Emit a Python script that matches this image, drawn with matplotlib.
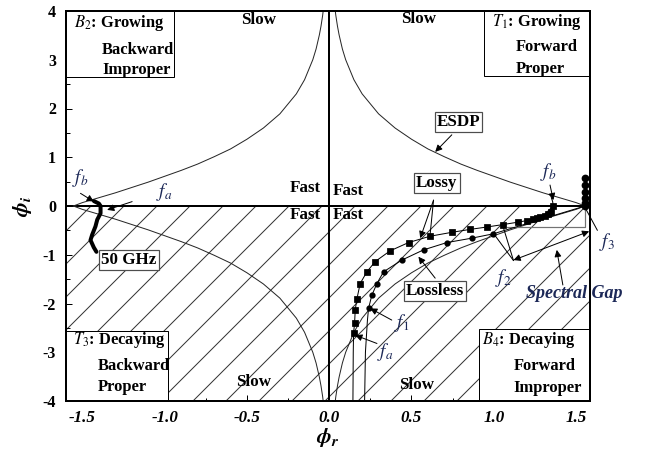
import numpy as np
import matplotlib
matplotlib.use('Agg')
import matplotlib.pyplot as plt
from matplotlib.patches import Rectangle

# drawn at 198 dpi, '//' hatch then gives 33 px line spacing like the original
DPI = 198
PX = 72.0 / DPI  # one pixel in points

plt.rcParams['font.family'] = 'Liberation Serif'
plt.rcParams['mathtext.fontset'] = 'stix'
plt.rcParams['hatch.linewidth'] = 1.0 * PX

# ESDP boundary, upper right branch (the other three are its mirror images)
esdp_r = [0.035, 0.04, 0.05, 0.06, 0.08, 0.10, 0.15, 0.20, 0.30, 0.40, 0.50,
          0.60, 0.70, 0.80, 0.90, 1.00, 1.10, 1.20, 1.30, 1.40, 1.50, 1.555]
esdp_i = [4.05, 3.91, 3.69, 3.51, 3.22, 3.00, 2.59, 2.30, 1.89, 1.60, 1.37,
          1.17, 1.01, 0.86, 0.73, 0.61, 0.49, 0.38, 0.27, 0.17, 0.07, 0.0]

# lossy branch (squares)
lossy_r = [0.144, 0.146, 0.148, 0.154, 0.158, 0.168, 0.188, 0.229, 0.279, 0.370,
           0.482, 0.613, 0.745, 0.856, 0.960, 1.058, 1.150, 1.200, 1.240, 1.261,
           1.280, 1.310, 1.330, 1.345, 1.362, 1.358, 1.350]
lossy_i = [-4.0, -3.0, -2.60, -2.41, -2.13, -1.91, -1.59, -1.35, -1.14, -0.92,
           -0.75, -0.62, -0.54, -0.48, -0.43, -0.38, -0.33, -0.30, -0.27, -0.25,
           -0.23, -0.20, -0.17, -0.13, -0.01, 0.09, 0.17]

# lossless branch (circles)
lossless_r = [0.215, 0.220, 0.232, 0.239, 0.259, 0.290, 0.330, 0.441, 0.573,
              0.715, 0.866, 0.998, 1.555]
lossless_i = [-4.0, -3.0, -2.35, -2.10, -1.83, -1.59, -1.35, -1.11, -0.90,
              -0.75, -0.66, -0.57, 0.0]

# lossless stop band at phi_r = pi/2
stop_r = [1.555, 1.555, 1.555, 1.555, 1.555, 1.555]
stop_i = [0.0, 0.06, 0.16, 0.29, 0.43, 0.57]

# backward branch up to 50 GHz (thick)
ghz_r = [-1.43, -1.40, -1.39, -1.39, -1.41, -1.421, -1.441, -1.451, -1.431, -1.415]
ghz_i = [0.10, 0.05, 0.0, -0.15, -0.28, -0.42, -0.59, -0.70, -0.85, -0.94]

xtick_vals = [-1.5, -1.0, -0.5, 0.0, 0.5, 1.0, 1.5]
xtick_labels = ['-1.5', '-1.0', '-0.5', '0.0', '0.5', '1.0', '1.5']
ytick_vals = [-4, -3, -2, -1, 0, 1, 2, 3, 4]
ytick_labels = ['-4', '-3', '-2', '-1', '0', '1', '2', '3', '4']

navy = '#1c2857'
fig = plt.figure(figsize=(648 / DPI, 457 / DPI), dpi=DPI)
ax = fig.add_axes([66 / 648, 1 - 401 / 457, 524 / 648, 390 / 457])
ax.set_xlim(-1.6, 1.585)
ax.set_ylim(-4, 4)

# hatched lower half plane
ax.axhspan(-4, 0, facecolor='none', edgecolor='0.2', hatch='//', lw=0, zorder=0)

ax.axhline(0, color='k', lw=2 * PX, zorder=2)
ax.axvline(0, color='k', lw=2 * PX, zorder=2)

er = np.array(esdp_r)
ei = np.array(esdp_i)
for sr, si in [(1, 1), (-1, 1), (-1, -1), (1, -1)]:
    ax.plot(sr * er, si * ei, color='0.15', lw=1 * PX, zorder=2)

ax.plot(lossy_r, lossy_i, color='k', lw=1 * PX, marker='s', ms=3.5 * PX,
        markevery=list(range(2, 25)), zorder=3)
ax.plot(lossless_r, lossless_i, color='k', lw=1 * PX, marker='o', ms=3.5 * PX,
        markevery=list(range(3, 12)), zorder=3)
ax.plot(stop_r, stop_i, color='k', lw=1 * PX, marker='o', ms=5 * PX, zorder=3)
ax.plot(ghz_r, ghz_i, color='k', lw=4 * PX, solid_capstyle='round', zorder=3)

# spectral gap bracket
ax.plot([1.08, 1.555, 1.555], [-0.43, -0.43, 0.0], color='0.45', lw=1.2 * PX, zorder=2)

# quadrant boxes
fs = 16.5 * PX
boxes = [(-1.6, 2.64, 0.655, 1.36), (0.943, 2.67, 0.642, 1.33),
         (-1.6, -4.0, 0.618, 1.44), (0.913, -4.0, 0.672, 1.47)]
for x0, y0, w, h in boxes:
    ax.add_patch(Rectangle((x0, y0), w, h, fc='white', ec='k', lw=1 * PX, zorder=4))

box_text = [(-1.554, 3.75, r'$B_2$: Growing'), (-1.380, 3.20, 'Backward'), (-1.380, 2.79, 'Improper'),
            (0.988, 3.78, r'$T_1$: Growing'), (1.135, 3.27, 'Forward'), (1.135, 2.82, 'Proper'),
            (-1.556, -2.75, r'$T_3$: Decaying'), (-1.407, -3.28, 'Backward'), (-1.407, -3.71, 'Proper'),
            (0.927, -2.75, r'$B_4$: Decaying'), (1.119, -3.28, 'Forward'), (1.119, -3.74, 'Improper')]
for x, y, s in box_text:
    ax.text(x, y, s, fontsize=fs, fontweight='bold', ha='left', va='center', zorder=5)

for x, y, s in [(-0.43, 3.82, 'Slow'), (0.54, 3.83, 'Slow'), (-0.46, -3.62, 'Slow'),
                (0.53, -3.67, 'Slow'), (-0.146, 0.36, 'Fast'), (0.117, 0.31, 'Fast'),
                (-0.146, -0.18, 'Fast'), (0.117, -0.18, 'Fast')]:
    ax.text(x, y, s, fontsize=17 * PX, fontweight='bold', ha='center', va='center', zorder=5)

lbl_box = dict(boxstyle='square,pad=0.12', fc='white', ec='0.3', lw=1.2 * PX)
for x, y, s in [(0.786, 1.73, 'ESDP'), (0.654, 0.47, 'Lossy'),
                (0.644, -1.74, 'Lossless'), (-1.218, -1.11, '50 GHz')]:
    ax.text(x, y, s, fontsize=17 * PX, fontweight='bold', ha='center', va='center',
            bbox=lbl_box, zorder=6)

for x, y, s in [(-1.512, 0.57, r'$f_b$'), (-1.006, 0.29, r'$f_a$'), (1.332, 0.70, r'$f_b$'),
                (0.441, -2.41, r'$f_1$'), (0.340, -2.99, r'$f_a$'), (1.058, -1.48, r'$f_2$'),
                (1.686, -0.73, r'$f_3$')]:
    ax.text(x, y, s, fontsize=19 * PX, color=navy, ha='center', va='center',
            zorder=6, clip_on=False)
ax.text(1.488, -1.79, 'Spectral Gap', fontsize=18 * PX, color=navy, style='italic',
        fontweight='bold', ha='center', va='center', zorder=6, clip_on=False)


def arrow(xy, xytext, style='-|>'):
    ax.annotate('', xy=xy, xytext=xytext, annotation_clip=False,
                arrowprops=dict(arrowstyle=style, color='k', lw=1 * PX,
                                mutation_scale=14 * PX, shrinkA=0, shrinkB=0),
                zorder=6)


arrow((0.644, 1.11), (0.745, 1.46))
arrow((0.553, -0.66), (0.634, 0.12))
arrow((0.613, -0.59), (0.634, 0.12), style='-')
arrow((0.542, -1.04), (0.644, -1.48))
arrow((0.249, -2.10), (0.38, -2.34))
arrow((0.158, -2.65), (0.29, -2.82))
arrow((1.362, 0.12), (1.342, 0.43))
arrow((-1.431, 0.09), (-1.512, 0.26))
arrow((-1.35, -0.08), (-1.198, 0.09))
arrow((1.0, -0.57), (1.12, -1.12), style='-')
arrow((1.06, -0.46), (1.12, -1.12), style='-')
arrow((1.58, -0.52), (1.12, -1.11), style='<|-|>')
arrow((1.383, -0.90), (1.42, -1.62))
arrow((1.545, 0.03), (1.63, -0.50), style='-')

ax.set_xticks(xtick_vals, xtick_labels)
ax.set_xticks(np.arange(-1.5, 1.6, 0.25), minor=True)
ax.set_yticks(ytick_vals, ytick_labels)
ax.set_yticks(np.arange(-4, 4.1, 0.5), minor=True)
for t in ax.get_xticklabels():
    t.set_fontweight('bold')
    t.set_fontstyle('italic')
    t.set_fontsize(17 * PX)
for t in ax.get_yticklabels():
    t.set_fontweight('bold')
    t.set_fontsize(16 * PX)
ax.tick_params(which='both', direction='in', top=False, right=False, width=1 * PX)
ax.tick_params(which='major', length=6 * PX)
ax.tick_params(which='minor', length=3.5 * PX)
ax.tick_params(axis='x', pad=9 * PX)
ax.tick_params(axis='y', pad=10 * PX)
for sp in ax.spines.values():
    sp.set_linewidth(2 * PX)
    sp.set_zorder(7)

ax.set_xlabel(r'$\mathbfit{\phi}_\mathbfit{r}$', fontsize=22 * PX, labelpad=0)
ax.set_ylabel(r'$\mathbfit{\phi}_\mathbfit{i}$', fontsize=22 * PX, labelpad=8 * PX)

fig.savefig('out.png', dpi=DPI)
